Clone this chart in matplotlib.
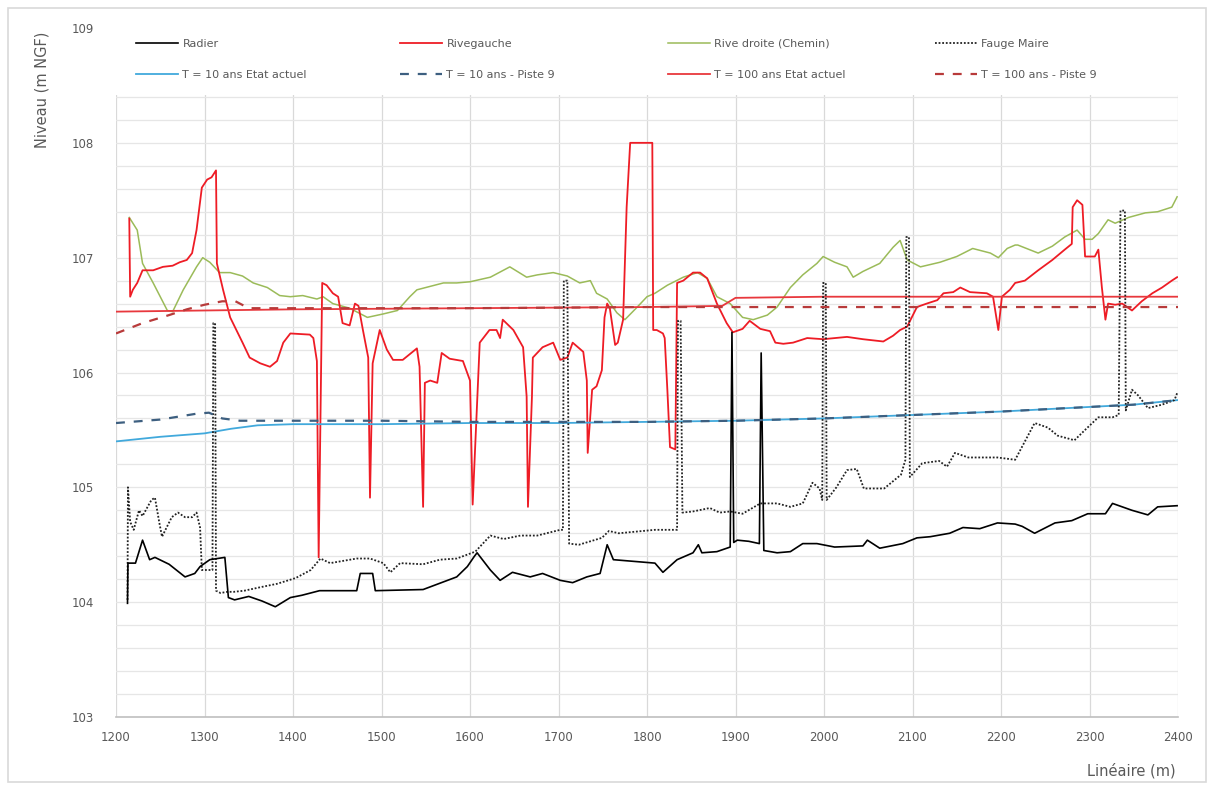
import numpy as np
import matplotlib
matplotlib.use('Agg')
import matplotlib.pyplot as plt
from matplotlib.patches import Rectangle

# Radier (fond du lit)
radier_x = [1213, 1213.5, 1222, 1230, 1238, 1244, 1260, 1278, 1289, 1295, 1306, 1323, 1327, 1334,
            1350, 1365, 1380, 1397, 1410, 1430, 1450, 1472, 1476, 1490, 1493, 1547, 1585, 1597,
            1605, 1608, 1623, 1634, 1648, 1668, 1682, 1702, 1716, 1732, 1747, 1755, 1762, 1809,
            1818, 1834, 1852, 1858, 1862, 1879, 1894, 1896, 1898, 1902, 1915, 1927, 1929, 1932,
            1947, 1962, 1976, 1992, 2012, 2044, 2049, 2063, 2089, 2105, 2120, 2142, 2157, 2176,
            2196, 2216, 2224, 2238, 2261, 2280, 2298, 2318, 2326, 2348, 2366, 2377, 2399]
radier_y = [103.99, 104.34, 104.34, 104.54, 104.37, 104.39, 104.33, 104.22, 104.25, 104.31, 104.37,
            104.39, 104.04, 104.02, 104.05, 104.01, 103.96, 104.04, 104.06, 104.10, 104.10, 104.10,
            104.25, 104.25, 104.10, 104.11, 104.22, 104.31, 104.40, 104.43, 104.28, 104.19, 104.26,
            104.22, 104.25, 104.19, 104.17, 104.22, 104.25, 104.50, 104.37, 104.34, 104.26, 104.37,
            104.43, 104.50, 104.43, 104.44, 104.48, 106.35, 104.52, 104.54, 104.53, 104.51, 106.17,
            104.45, 104.43, 104.44, 104.51, 104.51, 104.48, 104.49, 104.54, 104.47, 104.51, 104.56,
            104.57, 104.60, 104.65, 104.64, 104.69, 104.68, 104.66, 104.60, 104.69, 104.71, 104.77,
            104.77, 104.86, 104.80, 104.76, 104.83, 104.84]

# Rive gauche
rg_x = [1215, 1216, 1219, 1224, 1230, 1242, 1253, 1264, 1272, 1280, 1286, 1291, 1297, 1303, 1308,
        1313, 1314, 1321, 1329, 1343, 1351, 1363, 1374, 1382, 1389, 1397, 1419, 1423, 1427, 1429,
        1433, 1438, 1445, 1451, 1456, 1464, 1470, 1474, 1479, 1485, 1487, 1490, 1498, 1506, 1513,
        1524, 1540, 1543, 1547, 1549, 1555, 1563, 1568, 1577, 1592, 1600, 1603, 1611, 1622, 1630,
        1634, 1637, 1649, 1660, 1664, 1665.5, 1670, 1671, 1682, 1694, 1702, 1710, 1716, 1728, 1732,
        1733, 1738, 1743, 1749, 1752, 1755, 1758, 1764, 1767, 1773, 1777, 1781, 1803, 1806, 1807,
        1811, 1818, 1820, 1823, 1826, 1832, 1834, 1841, 1852, 1860, 1868, 1879, 1890, 1897, 1908,
        1916, 1928, 1939, 1945, 1954, 1965, 1981, 1999, 2026, 2044, 2067, 2078, 2086, 2094, 2105,
        2116, 2128, 2135, 2146, 2154, 2165, 2184, 2191, 2197, 2201, 2210, 2216, 2227, 2242, 2258,
        2272, 2280, 2281, 2286, 2292, 2295, 2301, 2306, 2310, 2314, 2318, 2321, 2329, 2337, 2348,
        2359, 2371, 2382, 2393, 2399]
rg_y = [107.34, 106.66, 106.72, 106.78, 106.89, 106.89, 106.92, 106.93, 106.96, 106.98, 107.04,
        107.24, 107.61, 107.68, 107.70, 107.76, 106.95, 106.72, 106.48, 106.26, 106.13, 106.08,
        106.05, 106.10, 106.26, 106.34, 106.33, 106.30, 106.10, 104.39, 106.78, 106.76, 106.69,
        106.66, 106.43, 106.41, 106.60, 106.58, 106.37, 106.13, 104.91, 106.08, 106.37, 106.20,
        106.11, 106.11, 106.21, 106.05, 104.83, 105.91, 105.93, 105.91, 106.17, 106.12, 106.10,
        105.93, 104.85, 106.26, 106.37, 106.37, 106.30, 106.46, 106.37, 106.22, 105.79, 104.83,
        105.79, 106.13, 106.22, 106.26, 106.11, 106.13, 106.26, 106.18, 105.93, 105.30, 105.85,
        105.88, 106.02, 106.48, 106.60, 106.56, 106.24, 106.26, 106.46, 107.44, 108.00, 108.00,
        108.00, 106.37, 106.37, 106.34, 106.30, 105.85, 105.35, 105.33, 106.78, 106.80, 106.87,
        106.87, 106.82, 106.60, 106.43, 106.35, 106.38, 106.45, 106.38, 106.36, 106.26, 106.25,
        106.26, 106.30, 106.29, 106.31, 106.29, 106.27, 106.32, 106.37, 106.40, 106.57, 106.60,
        106.63, 106.69, 106.70, 106.74, 106.70, 106.69, 106.66, 106.37, 106.66, 106.72, 106.78,
        106.80, 106.89, 106.98, 107.07, 107.12, 107.44, 107.50, 107.46, 107.01, 107.01, 107.01,
        107.07, 106.74, 106.46, 106.60, 106.59, 106.60, 106.54, 106.62, 106.69, 106.74, 106.80,
        106.83]

# Rive droite (Chemin)
rd_x = [1215, 1224, 1230, 1242, 1258, 1264, 1276, 1291, 1298, 1306, 1317, 1329, 1343, 1355, 1371,
        1385, 1397, 1411, 1427, 1434, 1445, 1464, 1484, 1502, 1518, 1532, 1540, 1555, 1570, 1585,
        1600, 1623, 1645, 1664, 1676, 1694, 1710, 1724, 1736, 1743, 1755, 1766, 1775, 1789, 1800,
        1809, 1823, 1841, 1857, 1868, 1879, 1894, 1908, 1920, 1936, 1947, 1962, 1976, 1992, 1999,
        2012, 2026, 2033, 2044, 2063, 2078, 2086, 2094, 2109, 2131, 2150, 2168, 2188, 2197, 2207,
        2216, 2219, 2242, 2258, 2272, 2286, 2295, 2303, 2310, 2321, 2329, 2344, 2363, 2377, 2393,
        2399]
rd_y = [107.35, 107.24, 106.95, 106.78, 106.54, 106.53, 106.72, 106.92, 107.00, 106.96, 106.87,
        106.87, 106.84, 106.78, 106.74, 106.67, 106.66, 106.67, 106.64, 106.66, 106.60, 106.56,
        106.48, 106.51, 106.54, 106.66, 106.72, 106.75, 106.78, 106.78, 106.79, 106.83, 106.92,
        106.83, 106.85, 106.87, 106.84, 106.78, 106.80, 106.69, 106.64, 106.52, 106.46, 106.57,
        106.66, 106.69, 106.76, 106.83, 106.87, 106.82, 106.66, 106.60, 106.48, 106.46, 106.50,
        106.57, 106.74, 106.85, 106.95, 107.01, 106.96, 106.92, 106.83, 106.88, 106.95, 107.09,
        107.15, 106.98, 106.92, 106.96, 107.01, 107.08, 107.04, 107.00, 107.08, 107.11, 107.11,
        107.04, 107.10, 107.18, 107.24, 107.16, 107.16, 107.21, 107.33, 107.30, 107.35, 107.39,
        107.40, 107.44, 107.53]

# Fauge Maire
fm_x = [1213, 1213.5, 1216, 1220, 1226, 1230, 1240, 1244, 1249, 1252, 1263, 1270, 1278, 1286, 1291,
        1295, 1297, 1303, 1309, 1310, 1312, 1313, 1318, 1326, 1333, 1345, 1363, 1382, 1403, 1420,
        1431, 1442, 1472, 1487, 1502, 1510, 1521, 1547, 1566, 1585, 1606, 1623, 1638, 1657, 1676,
        1702, 1705, 1706, 1710, 1712, 1723, 1749, 1757, 1768, 1809, 1834, 1835, 1838, 1840, 1852,
        1871, 1882, 1894, 1908, 1928, 1947, 1962, 1976, 1987, 1995, 1998, 1999, 2002, 2003, 2014,
        2026, 2037, 2045, 2053, 2068, 2087, 2092, 2093, 2096, 2097, 2111, 2130, 2139, 2148, 2163,
        2181, 2196, 2216, 2238, 2253, 2264, 2283, 2295, 2310, 2326, 2333, 2335, 2340, 2341, 2348,
        2355, 2366, 2382, 2396, 2399]
fm_y = [104.02, 105.00, 104.70, 104.63, 104.80, 104.75, 104.89, 104.91, 104.69, 104.57, 104.74,
        104.78, 104.74, 104.74, 104.78, 104.65, 104.28, 104.28, 104.28, 106.43, 106.43, 104.10,
        104.08, 104.09, 104.09, 104.10, 104.13, 104.16, 104.21, 104.28, 104.38, 104.34, 104.38,
        104.38, 104.34, 104.26, 104.34, 104.33, 104.37, 104.38, 104.44, 104.58, 104.55, 104.58,
        104.58, 104.63, 104.63, 106.80, 106.80, 104.51, 104.50, 104.56, 104.62, 104.60, 104.63,
        104.63, 106.45, 106.45, 104.78, 104.79, 104.82, 104.78, 104.79, 104.77, 104.86, 104.86,
        104.83, 104.86, 105.04, 104.99, 104.89, 106.78, 106.78, 104.89, 105.00, 105.15, 105.16,
        104.99, 104.99, 104.99, 105.11, 105.24, 107.18, 107.18, 105.09, 105.21, 105.23, 105.18,
        105.30, 105.26, 105.26, 105.26, 105.24, 105.56, 105.52, 105.45, 105.41, 105.50, 105.61,
        105.61, 105.63, 107.41, 107.41, 105.67, 105.85, 105.80, 105.69, 105.72, 105.76, 105.82]

# Lignes d'eau
t10_x = [1200, 1250, 1300, 1330, 1360, 1400, 1500, 1600, 1700, 1800, 1900, 2000, 2100, 2200, 2300,
         2350, 2400]
t10_y = [105.40, 105.44, 105.47, 105.51, 105.54, 105.55, 105.55, 105.56, 105.56, 105.57, 105.58,
         105.60, 105.63, 105.66, 105.70, 105.72, 105.76]
t10p9_x = [1200, 1250, 1290, 1305, 1320, 1340, 1400, 1500, 1600, 1700, 1800, 1900, 2000, 2100,
           2200, 2300, 2350, 2400]
t10p9_y = [105.56, 105.59, 105.64, 105.65, 105.60, 105.58, 105.58, 105.58, 105.57, 105.57, 105.57,
           105.58, 105.60, 105.63, 105.66, 105.70, 105.72, 105.76]
t100_x = [1200, 1400, 1600, 1800, 1885, 1900, 2000, 2400]
t100_y = [106.53, 106.55, 106.56, 106.57, 106.58, 106.65, 106.66, 106.66]
t100p9_x = [1200, 1230, 1260, 1280, 1300, 1320, 1335, 1350, 1400, 1600, 1800, 2000, 2200, 2400]
t100p9_y = [106.34, 106.43, 106.50, 106.55, 106.59, 106.62, 106.62, 106.56, 106.56, 106.56, 106.57,
            106.57, 106.57, 106.57]

x_ticks = list(range(1200, 2401, 100))
y_ticks = [103, 104, 105, 106, 107, 108, 109]

txt = '#595959'
fig = plt.figure(figsize=(12.14, 7.90), dpi=100)
fig.patches.append(Rectangle((0.007, 0.01), 0.986, 0.98, transform=fig.transFigure,
                             fill=False, edgecolor='#d9d9d9', lw=1.2))
ax = fig.add_axes([116 / 1214, 1 - 717 / 790, (1178 - 116) / 1214, (717 - 28) / 790])

l_t10, = ax.plot(t10_x, t10_y, color='#41a9dc', lw=1.3, zorder=3)
l_t10p9, = ax.plot(t10p9_x, t10p9_y, color='#3d5f80', lw=1.6, ls=(0, (4, 4)), zorder=4)
l_t100, = ax.plot(t100_x, t100_y, color='#e8383d', lw=1.3, zorder=3)
l_t100p9, = ax.plot(t100p9_x, t100p9_y, color='#b83a3a', lw=1.6, ls=(0, (4, 4)), zorder=4)
l_rd, = ax.plot(rd_x, rd_y, color='#9bbb59', lw=1.1, zorder=2)
l_rg, = ax.plot(rg_x, rg_y, color='#ee1c25', lw=1.3, zorder=2)
l_fm, = ax.plot(fm_x, fm_y, color='#222222', lw=1.3, ls=(0, (1, 1)), zorder=3)
l_rad, = ax.plot(radier_x, radier_y, color='black', lw=1.2, zorder=3)

ax.set_xlim(1200, 2400)
ax.set_ylim(103, 109)
ax.set_xticks(x_ticks)
ax.set_yticks(y_ticks)
ax.set_yticks(np.arange(103, 109.01, 0.2), minor=True)
ax.tick_params(axis='both', which='both', length=0, labelsize=8.5, labelcolor=txt)
ax.tick_params(axis='y', pad=16)
ax.tick_params(axis='x', pad=10)
ax.set_axisbelow(True)
ax.grid(True, axis='x', color='#d9d9d9', lw=0.9)
ax.grid(True, axis='y', which='both', color='#e6e6e6', lw=0.9)
for s in ['top', 'right', 'left']:
    ax.spines[s].set_visible(False)
ax.spines['bottom'].set_color('#bfbfbf')
ax.spines['bottom'].set_linewidth(1.2)

# white band behind the legend hides the upper grid
band = (95 - 28) / 689
ax.add_patch(Rectangle((-0.01, 1 - band), 1.02, band + 0.01, transform=ax.transAxes,
                       facecolor='white', edgecolor='none', zorder=1, clip_on=False))

# legend, one block per column
columns = [
    ([l_rad, l_t10], ['Radier', 'T = 10 ans Etat actuel']),
    ([l_rg, l_t10p9], ['Rivegauche', 'T = 10 ans - Piste 9']),
    ([l_rd, l_t100], ['Rive droite (Chemin)', 'T = 100 ans Etat actuel']),
    ([l_fm, l_t100p9], ['Fauge Maire', 'T = 100 ans - Piste 9']),
]
col_px = [128, 392, 660, 927]
for i, (hs, labs) in enumerate(columns):
    fig.legend(hs, labs, loc='upper left', bbox_to_anchor=(col_px[i] / 1214, 1 - 31 / 790),
               frameon=False, fontsize=8, labelcolor=txt, handlelength=3.8,
               handletextpad=0.4, labelspacing=1.9, borderpad=0.2)

fig.text(42 / 1214, 1 - 90 / 790, 'Niveau (m NGF)', rotation=90, ha='center', va='center',
         fontsize=10.5, color=txt)
fig.text(1176 / 1214, 1 - 771 / 790, 'Linéaire (m)', ha='right', va='center',
         fontsize=10.5, color=txt)

fig.savefig('out.png', dpi=100, facecolor='white')
